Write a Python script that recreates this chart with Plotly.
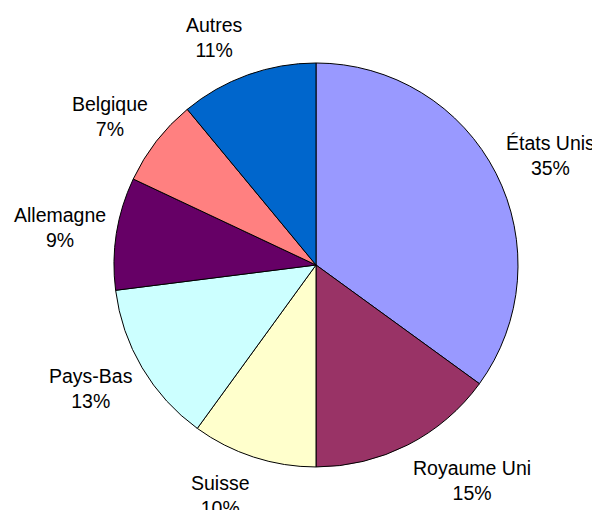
import math
import plotly.graph_objects as go

labels = ["États Unis", "Royaume Uni", "Suisse", "Pays-Bas", "Allemagne", "Belgique", "Autres"]
values = [35, 15, 10, 13, 9, 7, 11]
colors = ["#9999FF", "#993366", "#FFFFCC", "#CCFFFF", "#660066", "#FF8080", "#0066CC"]

W, H = 600, 510
dom_x = [0.1767, 0.85]
dom_y = [0.1, 0.8922]
FONT = dict(family="Liberation Sans, Arial, sans-serif", size=19.5, color="black")

fig = go.Figure(go.Pie(
    labels=labels,
    values=values,
    sort=False,
    direction="clockwise",
    rotation=0,
    marker=dict(colors=colors, line=dict(color="black", width=1)),
    textinfo="none",
    showlegend=False,
    hoverinfo="label+percent",
    domain=dict(x=dom_x, y=dom_y),
))

# Outside labels placed around the pie, derived from the slice mid-angles
cx = (dom_x[0] + dom_x[1]) / 2 * W
cy = (dom_y[0] + dom_y[1]) / 2 * H
radius = min((dom_x[1] - dom_x[0]) * W, (dom_y[1] - dom_y[0]) * H) / 2
gap_x, gap_y = 10, 40
total = sum(values)
cum = 0
annotations = []
for lab, v in zip(labels, values):
    mid = (cum + v / 2) / total * 2 * math.pi
    cum += v
    s, c = math.sin(mid), math.cos(mid)
    px = cx + (radius + gap_x) * s
    py = cy + (radius + gap_y) * c
    xa = "left" if s > 0 else "right"
    pct = round(v / total * 100)
    annotations.append(dict(
        x=px / W, y=py / H, xref="paper", yref="paper",
        text=f"{lab}<br>{pct}%", showarrow=False,
        xanchor=xa, yanchor="middle", align="center",
        font=FONT, borderpad=0,
    ))

fig.update_layout(
    width=W, height=H,
    margin=dict(l=0, r=0, t=0, b=0),
    paper_bgcolor="white",
    plot_bgcolor="white",
    annotations=annotations,
)
fig.write_html("out.html")
